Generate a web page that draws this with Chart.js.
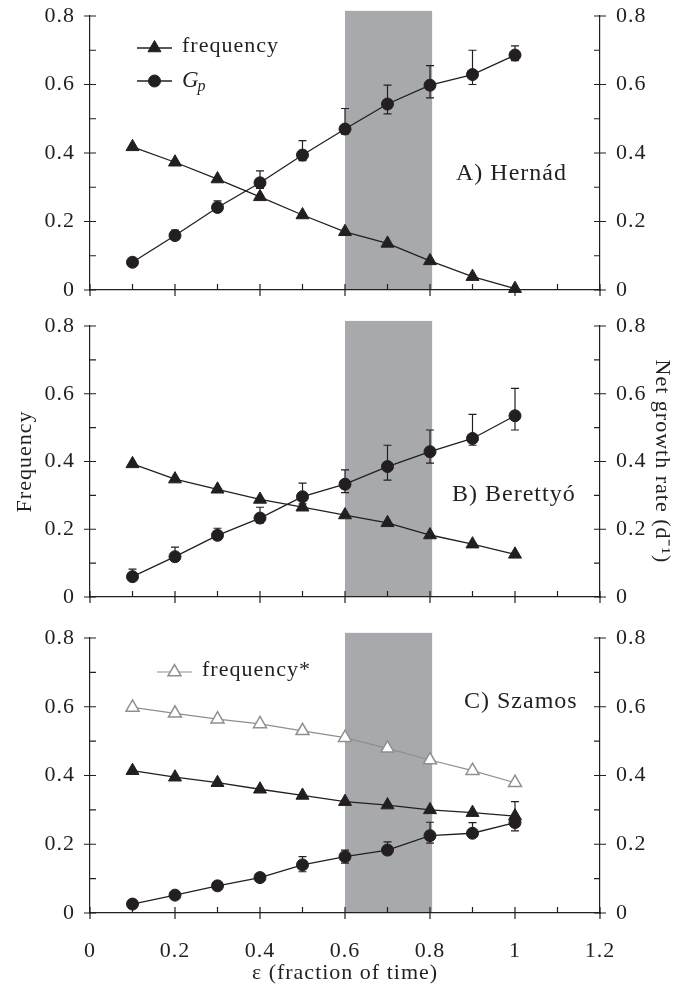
<!DOCTYPE html>
<html><head><meta charset="utf-8">
<script src="https://cdn.jsdelivr.net/npm/chart.js@4/dist/chart.umd.min.js"></script>
<style>
html,body{margin:0;padding:0;background:#fff;}
#wrap{position:relative;width:691px;height:989px;overflow:hidden;}
canvas{position:absolute;left:0;}
</style></head><body>
<div id="wrap">
<canvas id="cA" width="691" height="334" style="top:-14px"></canvas>
<canvas id="cB" width="691" height="331" style="top:296px"></canvas>
<canvas id="cC" width="691" height="381" style="top:608px"></canvas>
</div>
<script>
// ---------------- data ----------------
const epsilon = [0.1, 0.2, 0.3, 0.4, 0.5, 0.6, 0.7, 0.8, 0.9, 1.0];
const xTickLabels = ['0', '0.2', '0.4', '0.6', '0.8', '1', '1.2'];
const yTickLabels = ['0', '0.2', '0.4', '0.6', '0.8'];
const shadedRange = [0.6, 0.805];
const shadedTop = 0.815;

// A) Hernád
const freqA  = [0.418, 0.373, 0.324, 0.272, 0.219, 0.170, 0.136, 0.085, 0.039, 0.004];
const gpA    = [0.081, 0.159, 0.241, 0.313, 0.394, 0.470, 0.543, 0.598, 0.629, 0.686];
const gpAHi  = [0.088, 0.175, 0.260, 0.348, 0.436, 0.530, 0.598, 0.655, 0.700, 0.713];
const gpALo  = [0.075, 0.150, 0.230, 0.297, 0.378, 0.455, 0.514, 0.561, 0.600, 0.670];
// B) Berettyó
const freqB  = [0.393, 0.348, 0.318, 0.288, 0.265, 0.242, 0.219, 0.183, 0.156, 0.126];
const gpB    = [0.060, 0.119, 0.182, 0.233, 0.296, 0.333, 0.385, 0.429, 0.468, 0.535];
const gpBHi  = [0.082, 0.147, 0.203, 0.265, 0.336, 0.375, 0.448, 0.493, 0.539, 0.616];
const gpBLo  = [0.050, 0.105, 0.170, 0.219, 0.275, 0.308, 0.345, 0.395, 0.448, 0.493];
// C) Szamos
const freqStarC = [0.598, 0.581, 0.564, 0.550, 0.530, 0.510, 0.479, 0.445, 0.414, 0.379];
const freqC  = [0.414, 0.395, 0.379, 0.360, 0.342, 0.324, 0.314, 0.300, 0.292, 0.282];
const gpC    = [0.026, 0.052, 0.079, 0.103, 0.140, 0.164, 0.183, 0.225, 0.232, 0.263];
const gpCHi  = [0.030, 0.056, 0.083, 0.107, 0.164, 0.183, 0.207, 0.264, 0.263, 0.324];
const gpCLo  = [0.020, 0.047, 0.074, 0.098, 0.120, 0.145, 0.170, 0.203, 0.220, 0.239];

const panelNames = ['A) Hernád', 'B) Berettyó', 'C) Szamos'];
const seriesNames = ['frequency', 'Gp', 'frequency*'];

// ---------------- style ----------------
const FONT = "'Liberation Serif','Times New Roman',serif";
const FS = 22;
const INK = '#231f20';
const GREY = '#8f8f8f';
const BAND = '#a7a9ac';

function pts(arr) { return epsilon.map((x, i) => ({x: x, y: arr[i]})); }
function tenth(v) { return Math.round(v * 10); }
function fmt(list) {
  return function (v) {
    const t = tenth(v);
    if (t % 2 !== 0) return '';
    return list[t / 2] !== undefined ? list[t / 2] : '';
  };
}

function freqDS(arr) {
  return { label: seriesNames[0], data: pts(arr), yAxisID: 'y', borderColor: INK, borderWidth: 1.3,
    pointStyle: 'triangle', pointRadius: 7.5, pointBackgroundColor: INK, pointBorderColor: INK,
    pointBorderWidth: 1, tension: 0, clip: false };
}
function gpDS(arr, hi, lo) {
  return { label: seriesNames[1], data: pts(arr), yAxisID: 'y2', borderColor: INK, borderWidth: 1.3,
    pointStyle: 'circle', pointRadius: 6, pointBackgroundColor: INK, pointBorderColor: INK,
    pointBorderWidth: 1, tension: 0, clip: false, errHi: hi, errLo: lo };
}
function freqStarDS(arr) {
  return { label: seriesNames[2], data: pts(arr), yAxisID: 'y', borderColor: GREY, borderWidth: 1.2,
    pointStyle: 'triangle', pointRadius: 7.5, pointBackgroundColor: '#ffffff', pointBorderColor: GREY,
    pointBorderWidth: 1.5, tension: 0, clip: false };
}

function makeScales(o) {
  const tickFont = {family: FONT, size: FS};
  return {
    x: { type: 'linear', position: 'bottom', min: 0, max: 1.2,
      grid: {display: false, drawTicks: false}, border: {display: true, color: INK, width: 1.2},
      ticks: {display: o.xLabels, stepSize: 0.1, autoSkip: false, maxRotation: 0, padding: 25,
        color: INK, font: tickFont, callback: fmt(xTickLabels)},
      title: o.xTitle ? {display: true, text: 'ε (fraction of time)', color: INK,
        font: {family: FONT, size: FS}, padding: {top: 0, bottom: 3}} : {display: false},
      afterFit: s => { s.height = o.xHeight; } },
    y: { type: 'linear', position: 'left', min: 0, max: 0.8,
      grid: {display: false, drawTicks: false}, border: {display: true, color: INK, width: 1.2},
      ticks: {stepSize: 0.1, autoSkip: false, padding: 15, color: INK, font: tickFont, callback: fmt(yTickLabels)},
      title: o.yTitles ? {display: true, text: 'Frequency', color: INK,
        font: {family: FONT, size: FS}, padding: {top: 12, bottom: 0}} : {display: false},
      afterFit: s => { s.width = 90; } },
    y2: { type: 'linear', position: 'right', min: 0, max: 0.8,
      grid: {display: false, drawTicks: false}, border: {display: true, color: INK, width: 1.2},
      ticks: {stepSize: 0.1, autoSkip: false, padding: 16, color: INK, font: tickFont, callback: fmt(yTickLabels)},
      title: o.yTitles ? {display: true, text: 'Net growth rate (d\u207B\u00B9)', color: INK,
        font: {family: FONT, size: FS}, padding: {top: 16, bottom: 0}} : {display: false},
      afterFit: s => { s.width = 91; } }
  };
}

function spacing(chart) { try { chart.ctx.letterSpacing = '1px'; } catch (e) {} }

function panelPlugin(p) {
  return {
    id: 'panel',
    afterInit: spacing,
    beforeUpdate: spacing,
    beforeDraw(chart) {
      spacing(chart);
      const {ctx, scales: {x, y}} = chart;
      const x0 = x.getPixelForValue(shadedRange[0]);
      const x1 = x.getPixelForValue(shadedRange[1]);
      const yb = y.getPixelForValue(0);
      const yt = y.getPixelForValue(shadedTop);
      ctx.save();
      ctx.fillStyle = BAND;
      ctx.fillRect(x0, yt, x1 - x0, yb - yt);
      ctx.restore();
    },
    beforeDatasetsDraw(chart) {
      const {ctx, scales} = chart;
      ctx.save();
      ctx.strokeStyle = INK;
      ctx.lineWidth = 1.2;
      chart.data.datasets.forEach(ds => {
        if (!ds.errHi) return;
        const ys = scales[ds.yAxisID];
        ds.data.forEach((d, i) => {
          const px = scales.x.getPixelForValue(d.x);
          const ph = ys.getPixelForValue(ds.errHi[i]);
          const pl = ys.getPixelForValue(ds.errLo[i]);
          ctx.beginPath();
          ctx.moveTo(px, ph); ctx.lineTo(px, pl);
          ctx.moveTo(px - 4, ph); ctx.lineTo(px + 4, ph);
          ctx.moveTo(px - 4, pl); ctx.lineTo(px + 4, pl);
          ctx.stroke();
        });
      });
      ctx.restore();
    },
    afterDraw(chart) {
      const {ctx, chartArea: ca, scales: {x, y, y2}} = chart;
      ctx.save();
      ctx.strokeStyle = INK;
      ctx.lineWidth = 1.2;
      ctx.beginPath();
      const L = 6;
      y.ticks.forEach(t => {
        const major = tenth(t.value) % 2 === 0;
        const py = y.getPixelForValue(t.value), ax = y.right;
        ctx.moveTo(ax - (major ? L : 0), py); ctx.lineTo(ax + L, py);
      });
      y2.ticks.forEach(t => {
        const major = tenth(t.value) % 2 === 0;
        const py = y2.getPixelForValue(t.value), ax = y2.left;
        ctx.moveTo(ax - L, py); ctx.lineTo(ax + (major ? L : 0), py);
      });
      x.ticks.forEach(t => {
        const major = tenth(t.value) % 2 === 0;
        const px = x.getPixelForValue(t.value), ay = x.top;
        ctx.moveTo(px, ay - L); ctx.lineTo(px, ay + (major ? L : 0));
      });
      ctx.stroke();

      // legend
      ctx.textBaseline = 'middle';
      ctx.textAlign = 'left';
      (p.legend || []).forEach(item => {
        const ds = chart.data.datasets[item.ds];
        const lx0 = ca.left + item.dx, lx1 = lx0 + 35, ly = ca.top + item.dy;
        ctx.strokeStyle = ds.borderColor;
        ctx.lineWidth = ds.borderWidth;
        ctx.beginPath(); ctx.moveTo(lx0, ly); ctx.lineTo(lx1, ly); ctx.stroke();
        ctx.fillStyle = ds.pointBackgroundColor;
        ctx.strokeStyle = ds.pointBorderColor;
        ctx.lineWidth = ds.pointBorderWidth;
        Chart.helpers.drawPoint(ctx, {pointStyle: ds.pointStyle, radius: ds.pointRadius, rotation: 0,
          borderWidth: ds.pointBorderWidth}, (lx0 + lx1) / 2, ly);
        ctx.fillStyle = INK;
        const tx = lx1 + 10;
        if (ds.label === 'Gp') {
          ctx.font = 'italic 23px ' + FONT;
          ctx.fillText('G', tx, ly);
          const w = ctx.measureText('G').width;
          ctx.font = 'italic 16px ' + FONT;
          ctx.fillText('p', tx + w - 2, ly + 6);
        } else {
          ctx.font = FS + 'px ' + FONT;
          ctx.fillText(ds.label, tx, ly - 2);
        }
      });
      // panel label
      ctx.fillStyle = INK;
      ctx.font = '24px ' + FONT;
      ctx.fillText(p.name, ca.left + p.lx, ca.top + p.ly);
      ctx.restore();
    }
  };
}

function build(id, datasets, o, p) {
  return new Chart(document.getElementById(id), {
    type: 'line',
    data: {datasets: datasets},
    options: {
      responsive: false, animation: false, devicePixelRatio: 1,
      layout: {padding: {top: o.padTop, left: 0, right: 0, bottom: 0}},
      plugins: {legend: {display: false}, tooltip: {enabled: false}},
      scales: makeScales(o)
    },
    plugins: [panelPlugin(p)]
  });
}

build('cA', [freqDS(freqA), gpDS(gpA, gpAHi, gpALo)],
  {padTop: 30, xHeight: 30, xLabels: false, xTitle: false, yTitles: false},
  {name: panelNames[0], lx: 366, ly: 158, legend: [{ds: 0, dx: 47, dy: 32}, {ds: 1, dx: 47, dy: 65}]});

build('cB', [freqDS(freqB), gpDS(gpB, gpBHi, gpBLo)],
  {padTop: 30, xHeight: 30, xLabels: false, xTitle: false, yTitles: true},
  {name: panelNames[1], lx: 362, ly: 169, legend: []});

build('cC', [freqStarDS(freqStarC), freqDS(freqC), gpDS(gpC, gpCHi, gpCLo)],
  {padTop: 30, xHeight: 76, xLabels: true, xTitle: true, yTitles: false},
  {name: panelNames[2], lx: 374, ly: 64, legend: [{ds: 0, dx: 67, dy: 34}]});
</script>
</body></html>
